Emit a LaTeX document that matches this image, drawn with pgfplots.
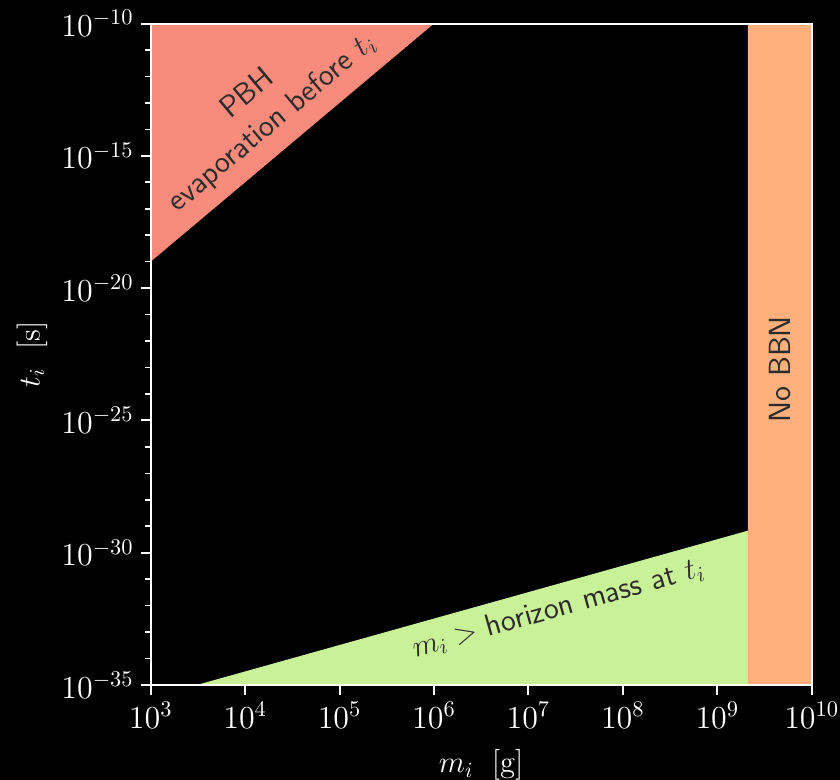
\documentclass[border=0pt]{standalone}
\usepackage{fix-cm}
\usepackage{pgfplots}
\pgfplotsset{compat=1.18}
\usetikzlibrary{backgrounds}

\definecolor{evapred}{HTML}{F88B7C}
\definecolor{horizongreen}{HTML}{C9F298}
\definecolor{bbnorange}{HTML}{FFB07C}
\definecolor{labelgray}{HTML}{2B2B2B}

\newcommand{\tickfont}{\fontsize{16}{19}\selectfont}
\newcommand{\chartfont}{\fontsize{15.3}{19}\selectfont}

\begin{document}
\begin{tikzpicture}
\begin{axis}[
  name=ax,
  scale only axis,
  width=330.5pt, height=330.75pt,
  xmode=log, ymode=log,
  xmin=1e3, xmax=1e10,
  ymin=1e-35, ymax=1e-10,
  xtick={1e3,1e4,1e5,1e6,1e7,1e8,1e9,1e10},
  ytick={1e-35,1e-30,1e-25,1e-20,1e-15,1e-10},
  minor ytick={1e-34,1e-33,1e-32,1e-31,1e-29,1e-28,1e-27,1e-26,1e-24,1e-23,1e-22,1e-21,1e-19,1e-18,1e-17,1e-16,1e-14,1e-13,1e-12,1e-11},
  xminorticks=false,
  tick align=outside,
  tick pos=left,
  major tick length=5pt,
  minor tick length=2.8pt,
  every tick/.style={white, line width=1pt},
  minor tick style={white, line width=0.8pt},
  axis line style={white, line width=1pt},
  tick label style={font=\tickfont, text=white},
  label style={font=\chartfont, text=white},
  xlabel={$m_i\ \ [\mathrm{g}]$},
  ylabel={$t_i\ \ [\mathrm{s}]$},
  xlabel style={at={(axis description cs:0.5,0)}, anchor=center, yshift=-40pt},
  ylabel style={at={(axis description cs:0,0.5)}, anchor=center, yshift=59.35pt},
  axis on top,
]
  % PBHs that have already evaporated: t_evap ~ m^3
  \addplot[fill=evapred, draw=none] coordinates {(1e3,1e-19) (1e6,1e-10) (1e3,1e-10) (1e3,1e-19)};
  % masses above the horizon mass: m_H ~ t
  \addplot[fill=horizongreen, draw=none] coordinates {(3.07e3,1e-35) (2.11e9,6.8e-30) (2.11e9,1e-35) (3.07e3,1e-35)};
  % BBN constraint
  \addplot[fill=bbnorange, draw=none] coordinates {(2.11e9,1e-35) (1e10,1e-35) (1e10,1e-10) (2.11e9,1e-10) (2.11e9,1e-35)};

  \node[rotate=40, align=center, font=\chartfont\sffamily, text=labelgray]
    at (axis cs:1.45e4,6e-14) {PBH\\evaporation before $t_i$};
  \node[rotate=15.7, font=\chartfont\sffamily, text=labelgray]
    at (axis cs:2.07e7,7.8e-33) {$m_i >$ horizon mass at $t_i$};
  \node[rotate=90, font=\chartfont\sffamily, text=labelgray]
    at (axis cs:4.64e9,8.5e-24) {No BBN};
\end{axis}
\begin{scope}[on background layer]
  \fill[black] ([shift={(-75.35pt,-47.5pt)}]ax.south west) rectangle ([shift={(14.15pt,11.75pt)}]ax.north east);
\end{scope}
\pgfresetboundingbox
\path ([shift={(-75.35pt,-47.5pt)}]ax.south west) rectangle ([shift={(14.15pt,11.75pt)}]ax.north east);
\end{tikzpicture}
\end{document}
